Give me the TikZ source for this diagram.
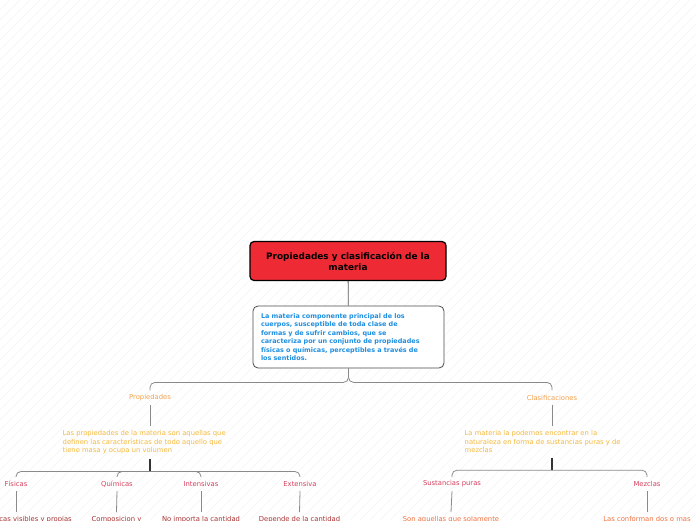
\documentclass[tikz,border=0pt]{standalone}
\usepackage{fontspec}
\setmainfont{DejaVu Sans}
\definecolor{titlered}{HTML}{EE2A35}
\definecolor{boxblue}{HTML}{1E8FE0}
\definecolor{lbl}{HTML}{F2A24E}
\definecolor{desc}{HTML}{F5B93C}
\definecolor{child}{HTML}{D6405E}
\definecolor{leafL}{HTML}{A83232}
\definecolor{leafR}{HTML}{F07040}
\definecolor{hatch}{HTML}{F3F3F3}
\definecolor{connc}{HTML}{8A8A8A}
\begin{document}
\begin{tikzpicture}[x=1pt,y=-1pt,
  titlebox/.style={rectangle, rounded corners=4pt, fill=titlered, draw=black, line width=1.2pt,
    minimum width=196pt, minimum height=39pt, align=center, inner sep=0pt,
    font=\bfseries\fontsize{8.9}{11}\selectfont},
  mainbox/.style={rectangle, rounded corners=5pt, fill=white, draw=black!70, line width=0.8pt,
    minimum width=191pt, minimum height=62pt, align=left, text width=175pt, inner xsep=8pt,
    text=boxblue, font=\bfseries\fontsize{6.45}{8.5}\selectfont},
  lab/.style={inner sep=2pt, minimum height=14pt, text=lbl, font=\fontsize{6.8}{8.5}\selectfont},
  dsc/.style={inner xsep=0pt, inner ysep=5pt, align=left, text=desc, font=\fontsize{6.8}{8.5}\selectfont},
  chl/.style={inner sep=2pt, minimum height=14pt, text=child, font=\fontsize{6.8}{8.5}\selectfont},
  leaf/.style={inner xsep=0pt, inner ysep=4pt, anchor=base, font=\fontsize{6.8}{8.5}\selectfont},
  conn/.style={draw=connc, line width=0.8pt},
  connb/.style={draw=connc, line width=0.8pt, rounded corners=5pt},
  dark/.style={draw=black!80, line width=1.2pt}
]
\useasboundingbox (0,0) rectangle (696,520);
\clip (0,0) rectangle (696,520);
\foreach \c in {0,10,...,1220} {\draw[hatch, line width=0.5pt] (\c,0) -- (\c-520,520);}

\node[titlebox] (title) at (348,261) {Propiedades y clasificación de la\\materia};
\node[mainbox] (mbox) at (348.5,337) {La materia componente principal de los\\cuerpos, susceptible de toda clase de\\formas y de sufrir cambios, que se\\caracteriza por un conjunto de propiedades\\físicas o químicas, perceptibles a través de\\los sentidos.};

\node[lab] (prop) at (150,397.5) {Propiedades};
\node[lab] (clas) at (552,397.5) {Clasificaciones};

\node[dsc, anchor=north west] (descL) at (62.5,425.5) {Las propiedades de la materia son aquellas que\\definen las características de todo aquello que\\tiene masa y ocupa un volumen};
\node[dsc, anchor=north west] (descR) at (464.5,425.5) {La materia la podemos encontrar en la\\naturaleza en forma de sustancias puras y de\\mezclas};

\node[chl] (fis) at (16,484) {Físicas};
\node[chl] (qui) at (117,484) {Químicas};
\node[chl] (int) at (201,484) {Intensivas};
\node[chl] (ext) at (300,484) {Extensiva};
\node[chl] (sus) at (452,484) {Sustancias puras};
\node[chl] (mez) at (647,484) {Mezclas};

\node[leaf, text=leafL] (lfis) at (16,521.5) {Características visibles y propias};
\node[leaf, text=leafL] (lqui) at (116.5,521.5) {Composicion y};
\node[leaf, text=leafL] (lint) at (201,521.5) {No importa la cantidad};
\node[leaf, text=leafL] (lext) at (299.5,521.5) {Depende de la cantidad};
\node[leaf, text=leafR] (lsus) at (451,521.5) {Son aquellas que solamente};
\node[leaf, text=leafR] (lmez) at (647,521.5) {Las conforman dos o mas};

% connectors
\draw[conn, draw=black!65] (title) -- (mbox);
\draw[connb] (mbox.south) -- ++(0,14) -| (prop.north);
\draw[connb] (mbox.south) -- ++(0,14) -| (clas.north);

\draw[conn] (prop.south) -- (prop.south |- descL.north);
\draw[conn] (clas.south) -- (clas.south |- descR.north);

\draw[dark] (prop.south |- descL.south) -- ++(0,12) coordinate (bL);
\draw[dark] (clas.south |- descR.south) -- ++(0,12) coordinate (bR);

\foreach \n in {fis,qui,int,ext} {\draw[connb] (bL) -| (\n.north);}
\foreach \n in {sus,mez} {\draw[connb] (bR) -| (\n.north);}

\draw[conn] (fis.south) -- (lfis.north);
\draw[conn] (qui.south) -- (lqui.north);
\draw[conn] (int.south) -- (lint.north);
\draw[conn] (ext.south) -- (lext.north);
\draw[conn] (sus.south) -- (lsus.north);
\draw[conn] (mez.south) -- (lmez.north);
\end{tikzpicture}
\end{document}
